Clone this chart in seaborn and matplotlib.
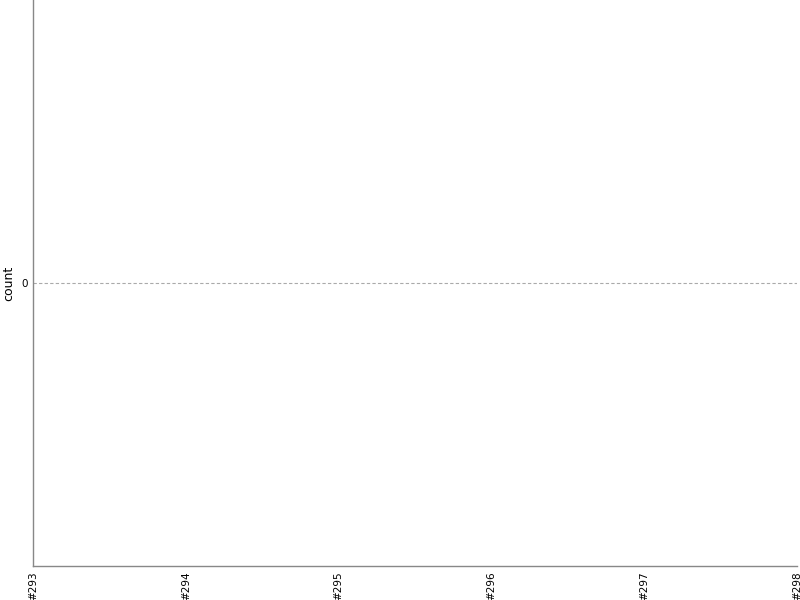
import matplotlib
matplotlib.use("Agg")
import matplotlib.pyplot as plt
import seaborn as sns
import pandas as pd

categories = ["#293", "#294", "#295", "#296", "#297", "#298"]
counts = []  # no data points in the chart

sns.set_style("white")
fig = plt.figure(figsize=(8, 6), dpi=100)
ax = fig.add_axes([0.04125, 0.0567, 0.955, 0.9433])

df = pd.DataFrame({"build": pd.Series([], dtype=float), "count": pd.Series(counts, dtype=float)})
sns.lineplot(data=df, x="build", y="count", ax=ax)

ax.set_xlim(0, len(categories) - 1)
ax.set_ylim(-1, 1)
ax.set_xticks(range(len(categories)))
ax.set_xticklabels(categories, rotation=90, fontsize=7.5, color="black")
ax.set_yticks([0])
ax.set_yticklabels(["0"], fontsize=7.5, color="black")
ax.tick_params(length=0, pad=4)
ax.axhline(0, color="#aaaaaa", linestyle=(0, (3, 2)), linewidth=0.8)
ax.set_xlabel("")
ax.set_ylabel("count", fontsize=9, color="black")

for s in ["top", "right"]:
    ax.spines[s].set_visible(False)
for s in ["left", "bottom"]:
    ax.spines[s].set_color("#888888")
    ax.spines[s].set_linewidth(1)

fig.savefig("out.png", dpi=100)
